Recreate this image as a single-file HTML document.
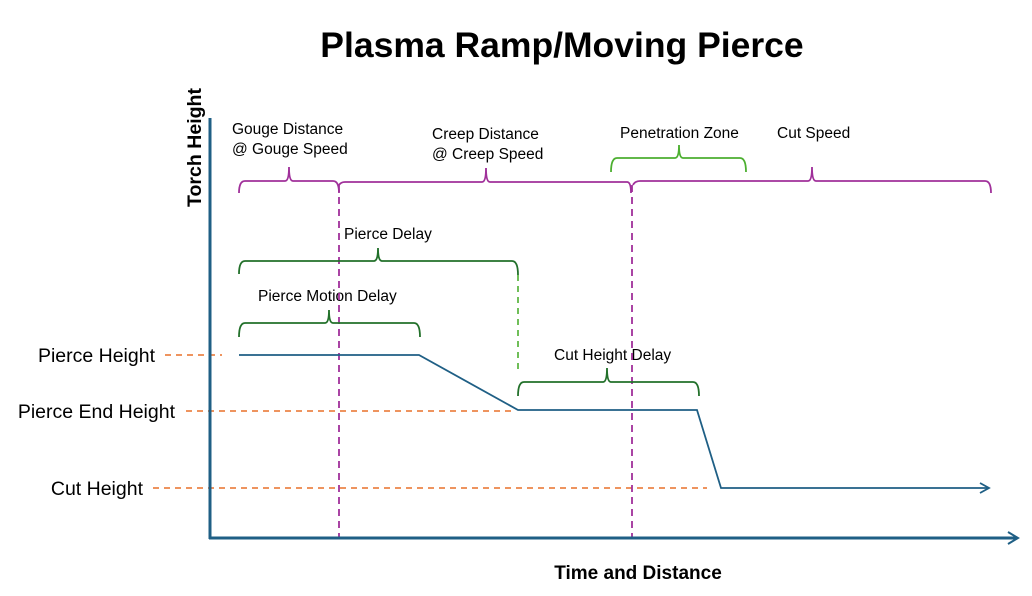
<!DOCTYPE html>
<html><head><style>body{margin:0;background:#fff}svg{display:block}text{font-family:"Liberation Sans",sans-serif}</style></head><body>
<svg width="1032" height="596" viewBox="0 0 1032 596" xmlns="http://www.w3.org/2000/svg">
<text x="562" y="57" font-size="35.5" font-weight="bold" text-anchor="middle">Plasma Ramp/Moving Pierce</text>
<text x="0" y="0" font-size="19" font-weight="bold" transform="translate(201,207) rotate(-90)" textLength="119" lengthAdjust="spacingAndGlyphs">Torch Height</text>
<text x="638" y="579" font-size="19" font-weight="bold" text-anchor="middle">Time and Distance</text>
<g font-size="19.5" text-anchor="end">
<text x="155" y="362">Pierce Height</text>
<text x="175" y="418">Pierce End Height</text>
<text x="143" y="495">Cut Height</text>
</g>
<g font-size="15.5">
<text x="232" y="134">Gouge Distance</text>
<text x="232" y="154">@ Gouge Speed</text>
<text x="432" y="139">Creep Distance</text>
<text x="432" y="159">@ Creep Speed</text>
<text x="620" y="138">Penetration Zone</text>
<text x="777" y="138">Cut Speed</text>
<text x="344" y="239">Pierce Delay</text>
<text x="258" y="301">Pierce Motion Delay</text>
<text x="554" y="360">Cut Height Delay</text>
</g>
<g stroke="#E8702A" stroke-width="1.6" stroke-dasharray="6,5">
<line x1="165" y1="355" x2="222" y2="355"/>
<line x1="186" y1="411" x2="511" y2="411"/>
<line x1="153" y1="488" x2="707" y2="488"/>
</g>
<g stroke="#A0309A" stroke-width="1.8" stroke-dasharray="7,5">
<line x1="339" y1="185" x2="339" y2="538"/>
<line x1="632" y1="185" x2="632" y2="538"/>
</g>
<line x1="518" y1="275" x2="518" y2="372" stroke="#4CAF30" stroke-width="1.6" stroke-dasharray="6,5"/>
<g fill="none" stroke-width="1.8">
<g stroke="#A0309A">
<path d="M239,193 Q239,181 245,181 L285,181 Q289,181 289,167 Q289,181 293,181 L333,181 Q339,181 339,193"/>
<path d="M339,185 Q341,182 345,182 L482,182 Q486,182 486,168 Q486,182 490,182 L627,182 Q631,182 631,193"/>
<path d="M633,185 Q635,181 640,181 L808,181 Q812,181 812,167 Q812,181 816,181 L985,181 Q991,181 991,193"/>
</g>
<path stroke="#4CAF30" d="M611,172 Q611,158 617,158 L675,158 Q679,158 679,145 Q679,158 683,158 L740,158 Q746,158 746,172"/>
<g stroke="#22702A">
<path d="M239,274 Q239,261 245,261 L374,261 Q378,261 378,248 Q378,261 382,261 L512,261 Q518,261 518,275"/>
<path d="M239,337 Q239,323 245,323 L325,323 Q329,323 329,310 Q329,323 333,323 L414,323 Q420,323 420,337"/>
<path d="M518,396 Q518,382 524,382 L603,382 Q607,382 607,368 Q607,382 611,382 L693,382 Q699,382 699,396"/>
</g>
<path stroke="#1F5F85" d="M239,355 L419,355 L518,410 L697,410 L721,488 L988,488"/>
<path stroke="#1F5F85" d="M980,483 L989,488 L980,493"/>
<g stroke="#1F5F85" stroke-width="3">
<line x1="210" y1="118" x2="210" y2="539"/>
<line x1="209" y1="538" x2="1016" y2="538"/>
<path d="M1008,532 L1018,538 L1008,544" stroke-width="2"/>
</g>
</g>
</svg>
</body></html>
